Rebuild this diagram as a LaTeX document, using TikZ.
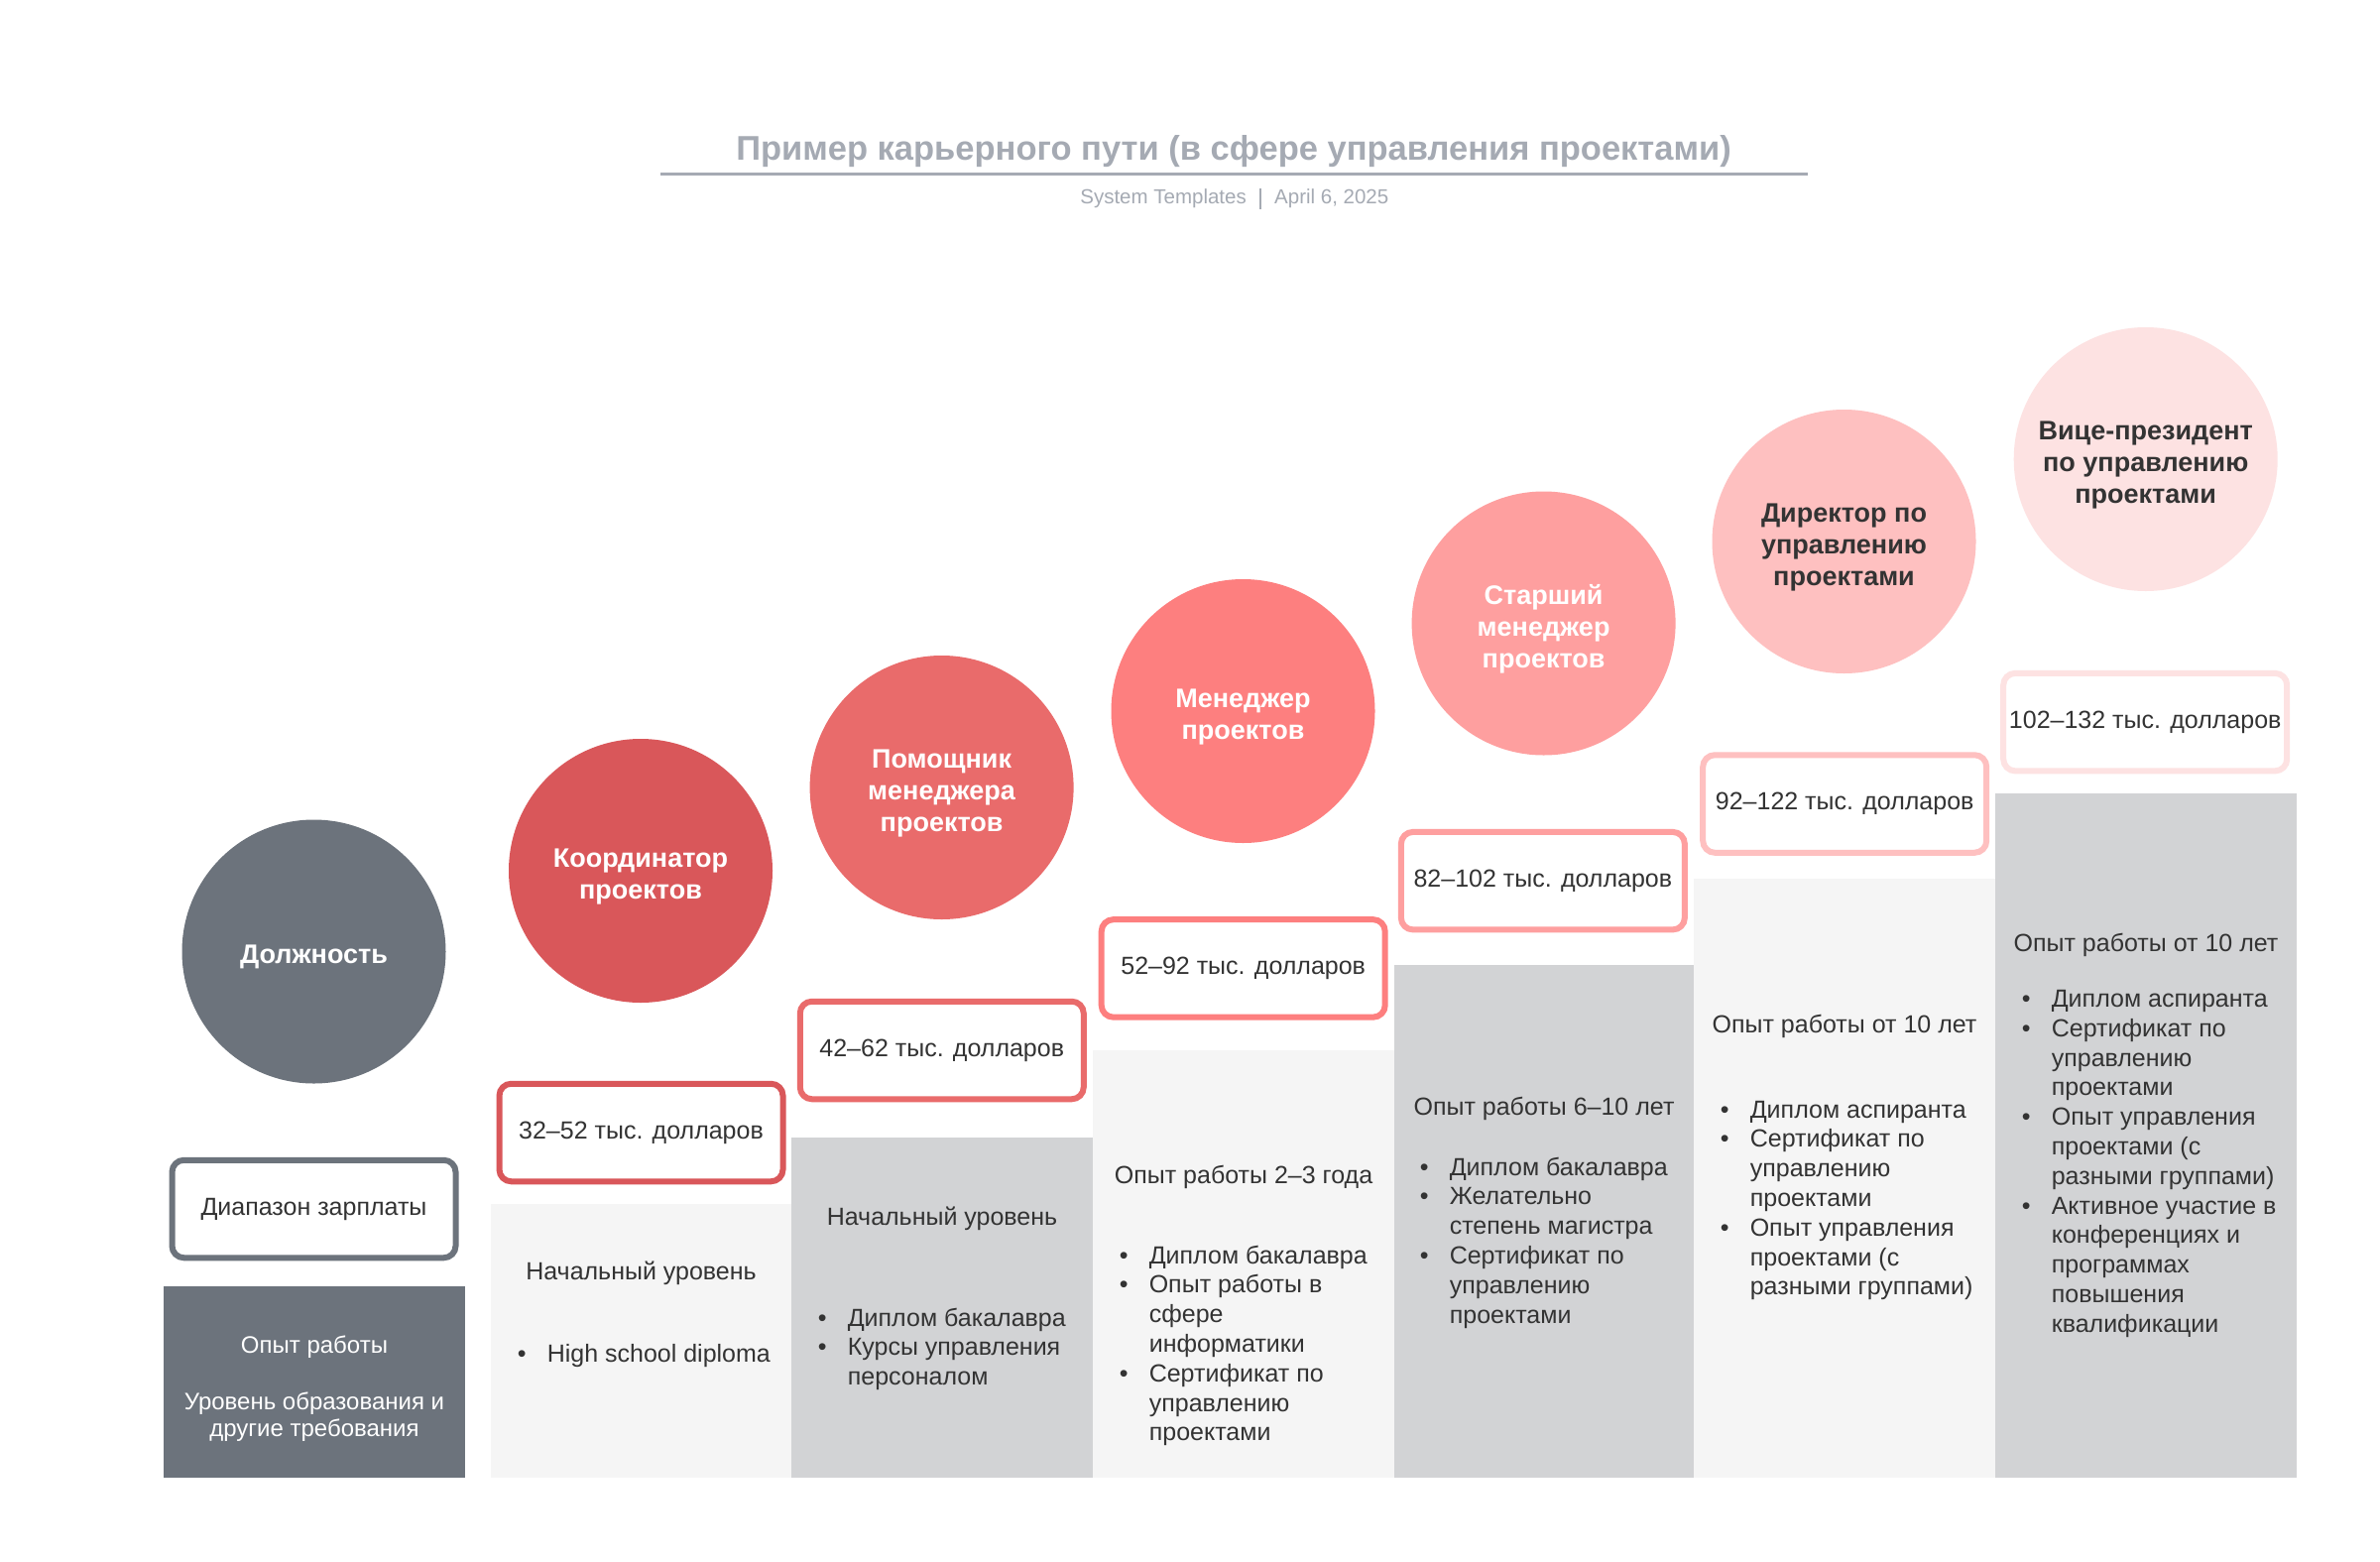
\documentclass[tikz,border=0pt]{standalone}
\usepackage{fontspec}
\setmainfont{Liberation Sans}
\definecolor{cgray}{HTML}{6C737C}
\definecolor{cA}{HTML}{D9575A}
\definecolor{cB}{HTML}{E96B6B}
\definecolor{cC}{HTML}{FD7F7F}
\definecolor{cD}{HTML}{FE9F9F}
\definecolor{cE}{HTML}{FEC0C0}
\definecolor{cF}{HTML}{FDE2E2}
\definecolor{light}{HTML}{F5F5F5}
\definecolor{midgray}{HTML}{D2D3D5}
\definecolor{txt}{HTML}{333333}
\definecolor{titlegray}{HTML}{A5AAB3}
\newcommand\blt{\makebox[30pt][l]{\textbullet}}
\begin{document}
\begin{tikzpicture}[x=1pt,y=-1pt,
  role/.style={circle, minimum size=266pt, inner sep=0pt},
  roletext/.style={inner sep=0pt, align=center,
    font=\fontsize{27}{32}\selectfont\bfseries, text=white},
  salary/.style={rectangle, rounded corners=12pt, minimum width=286pt,
    minimum height=98.5pt, line width=6pt, fill=white, inner sep=0pt,
    font=\fontsize{25}{30}\selectfont, text=txt},
  colbox/.style={draw=none},
  head/.style={anchor=base, inner sep=0pt, font=\fontsize{25}{30}\selectfont, text=txt},
  blist/.style={anchor=base west, inner sep=0pt, font=\fontsize{25}{29.8}\selectfont, text=txt},
  legtext/.style={anchor=base, inner sep=0pt, align=center, font=\fontsize{24}{27}\selectfont, text=white}
]
\useasboundingbox (0,0) rectangle (2400,1574);
\fill[white] (0,0) rectangle (2400,1574);

% title
\node[anchor=base, inner sep=0pt, font=\fontsize{34.5}{38}\selectfont\bfseries, text=titlegray] (title) at (1244,161.7)
  {Пример карьерного пути (в сфере управления проектами)};
\coordinate (ulA) at (666,175);
\coordinate (ulB) at (1823,175);
\draw[titlegray, line width=3pt] (ulA) -- (ulB);
\node[anchor=base east, inner sep=0pt, font=\fontsize{20.5}{24}\selectfont, text=titlegray] (sub1) at (1257,205.7) {System Templates};
\node[anchor=base west, inner sep=0pt, font=\fontsize{20.5}{24}\selectfont, text=titlegray] (sub2) at (1285,205.7) {April 6, 2025};
\coordinate (sepA) at (1271,190);
\coordinate (sepB) at (1271,211);
\draw[titlegray, line width=1.5pt] (sepA) -- (sepB);

% column blocks
\fill[cgray,colbox]   (165,1297) rectangle (469,1490);
\fill[light,colbox]   (495,1214) rectangle (798,1490);
\fill[midgray,colbox] (798,1146.5) rectangle (1102,1490);
\fill[light,colbox]   (1102,1058.7) rectangle (1406,1490);
\fill[midgray,colbox] (1406,973) rectangle (1708,1490);
\fill[light,colbox]   (1708,886) rectangle (2012,1490);
\fill[midgray,colbox] (2012,800) rectangle (2316,1490);

% circles
\node[role, fill=cgray] (r0) at (316.5,959.5) {};
\node[role, fill=cA] (r1) at (646,878) {};
\node[role, fill=cB] (r2) at (949.6,794) {};
\node[role, fill=cC] (r3) at (1253.5,717) {};
\node[role, fill=cD] (r4) at (1556.6,628.5) {};
\node[role, fill=cE] (r5) at (1859.5,546) {};
\node[role, fill=cF] (r6) at (2163.7,463) {};
\node[roletext] (t0) at ([yshift=-5pt]r0.center) {Должность};
\node[roletext] (t1) at ([yshift=-6pt]r1.center) {Координатор\\проектов};
\node[roletext] (t2) at ([yshift=-6pt]r2.center) {Помощник\\менеджера\\проектов};
\node[roletext] (t3) at ([yshift=-6pt]r3.center) {Менеджер\\проектов};
\node[roletext] (t4) at ([yshift=-6pt]r4.center) {Старший\\менеджер\\проектов};
\node[roletext, text=txt] (t5) at ([yshift=-6pt]r5.center) {Директор по\\управлению\\проектами};
\node[roletext, text=txt] (t6) at ([yshift=-6pt]r6.center) {Вице-президент\\по управлению\\проектами};

% salary boxes
\node[salary, draw=cgray] (s0) at (316.5,1219) {Диапазон зарплаты};
\node[salary, draw=cA] (s1) at (646.5,1142) {32–52 тыс. долларов};
\node[salary, draw=cB] (s2) at (949.75,1059) {42–62 тыс. долларов};
\node[salary, draw=cC] (s3) at (1253.7,976.4) {52–92 тыс. долларов};
\node[salary, draw=cD] (s4) at (1555.85,888.15) {82–102 тыс. долларов};
\node[salary, draw=cE] (s5) at (1860.2,810.5) {92–122 тыс. долларов};
\node[salary, draw=cF] (s6) at (2163.2,728.1) {102–132 тыс. долларов};

% legend texts
\node[legtext] (l1) at (317,1364) {Опыт работы};
\node[legtext] (l2) at (317,1448) {Уровень образования и\\другие требования};

% headings
\node[head] (h1) at (646.5,1290) {Начальный уровень};
\node[head] (h2) at (950,1235) {Начальный уровень};
\node[head] (h3) at (1254,1193.5) {Опыт работы 2–3 года};
\node[head] (h4) at (1557,1124) {Опыт работы 6–10 лет};
\node[head] (h5) at (1860,1041) {Опыт работы от 10 лет};
\node[head] (h6) at (2164,959) {Опыт работы от 10 лет};

% bullet lists
\node[blist] (b1) at (521.6,1373) {\begin{tabular}[t]{@{}l@{}l@{}}
\blt & High school diploma
\end{tabular}};
\node[blist] (b2) at (824.6,1337) {\begin{tabular}[t]{@{}l@{}l@{}}
\blt & Диплом бакалавра\\
\blt & Курсы управления\\
     & персоналом
\end{tabular}};
\node[blist] (b3) at (1128.6,1274) {\begin{tabular}[t]{@{}l@{}l@{}}
\blt & Диплом бакалавра\\
\blt & Опыт работы в\\
     & сфере\\
     & информатики\\
\blt & Сертификат по\\
     & управлению\\
     & проектами
\end{tabular}};
\node[blist] (b4) at (1431.6,1185) {\begin{tabular}[t]{@{}l@{}l@{}}
\blt & Диплом бакалавра\\
\blt & Желательно\\
     & степень магистра\\
\blt & Сертификат по\\
     & управлению\\
     & проектами
\end{tabular}};
\node[blist] (b5) at (1734.6,1127) {\begin{tabular}[t]{@{}l@{}l@{}}
\blt & Диплом аспиранта\\
\blt & Сертификат по\\
     & управлению\\
     & проектами\\
\blt & Опыт управления\\
     & проектами (с\\
     & разными группами)
\end{tabular}};
\node[blist] (b6) at (2038.6,1015.5) {\begin{tabular}[t]{@{}l@{}l@{}}
\blt & Диплом аспиранта\\
\blt & Сертификат по\\
     & управлению\\
     & проектами\\
\blt & Опыт управления\\
     & проектами (с\\
     & разными группами)\\
\blt & Активное участие в\\
     & конференциях и\\
     & программах\\
     & повышения\\
     & квалификации
\end{tabular}};
\end{tikzpicture}
\end{document}
